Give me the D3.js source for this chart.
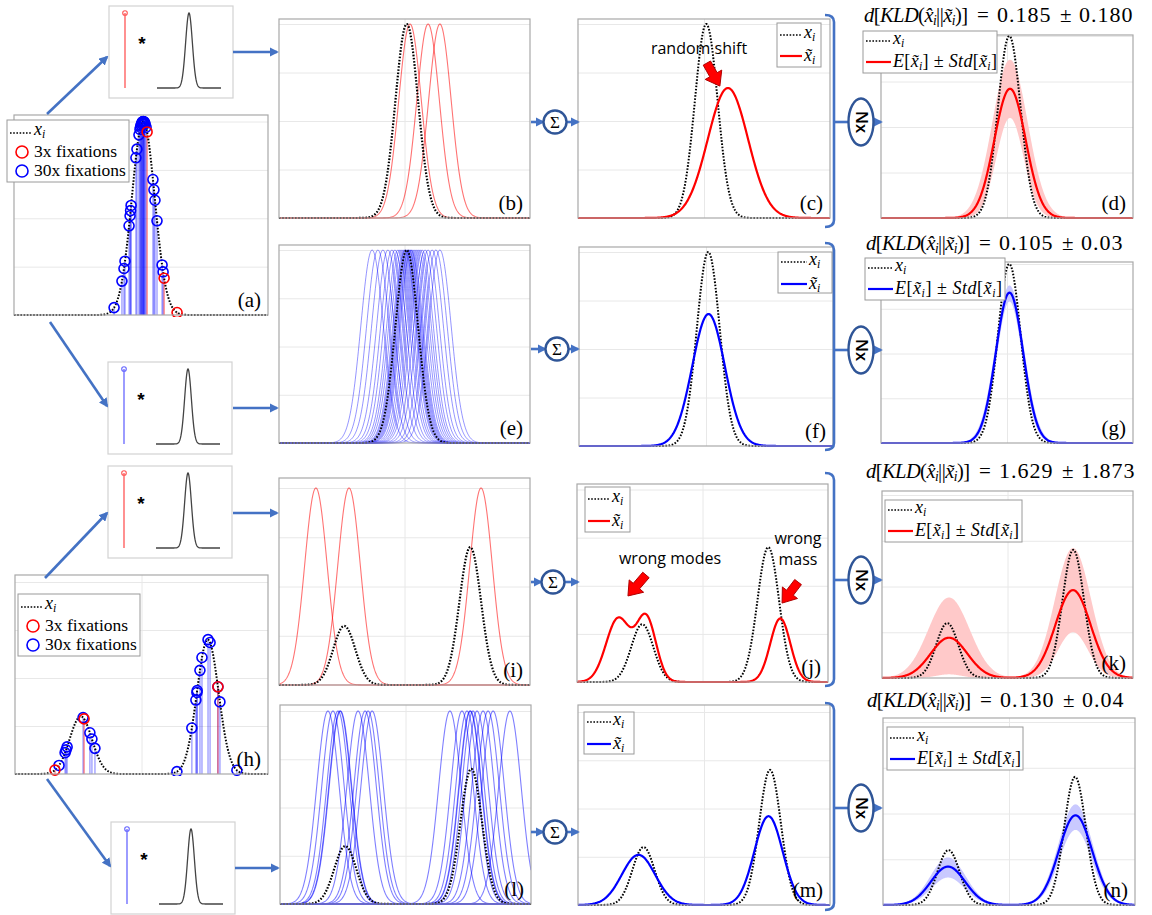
<!DOCTYPE html>
<html><head><meta charset="utf-8">
<script src="https://cdn.jsdelivr.net/npm/d3@7"></script>
<style>body{margin:0;background:#fff}svg{display:block}</style>
</head><body><script>
// ---------- data: x in axis units 0..100, heights relative to the unit grid line ----------
const xiOneMode  = [{mu:50.9, sd:4.5, h:1.0}];
const xiTwoModes = [{mu:26.0, sd:4.4, h:0.30}, {mu:76.2, sd:4.3, h:0.70}];

const fix3One  = [52.4, 59.1, 64.2];
const fix30One = [39.4, 42.5, 43.3, 43.7, 45.3, 45.7, 45.9, 46.1, 48.0, 48.4, 49.2, 49.6, 49.8, 50.0, 50.2,
                  50.4, 50.6, 50.8, 51.0, 51.2, 51.4, 51.6, 52.0, 54.7, 55.1, 55.5, 56.3, 58.3, 58.7, 50.9];
const fix3Two  = [15.8, 27.3, 80.2];
const fix30Two = [17.4, 19.8, 20.2, 20.6, 26.9, 29.6, 30.4, 31.6, 64.0, 69.9, 71.5, 71.9, 72.0,
                  73.1, 73.9, 76.3, 77.1, 80.2, 81.0, 87.7];

const kernelSd = 4.5;
const shiftB = [52.2, 59.4, 64.1];
const shiftE = [37.1, 39.4, 41.4, 43.4, 45.0, 46.2, 47.4, 48.2, 49.0, 49.8, 50.2, 50.6, 51.0, 51.4,
                51.8, 52.2, 52.6, 53.0, 53.8, 54.6, 55.4, 56.2, 57.0, 58.2, 59.4, 61.0, 62.5, 64.1];
const shiftI = [14.7, 27.9, 80.5];
const shiftL = [19.1, 21.1, 23.1, 23.9, 24.1, 31.1, 33.9, 35.1, 36.7, 67.7, 72.5, 74.5, 75.7, 75.9,
                76.9, 78.5, 80.9, 82.9, 84.9, 91.6];

// summed estimates
const estC = [{mu:59.5, sd:8.0, h:0.67}];
const estF = [{mu:51.0, sd:6.4, h:0.68}];
const estJ = [{mu:16.4, sd:4.8, h:0.33}, {mu:27.6, sd:3.9, h:0.33}, {mu:81.0, sd:4.0, h:0.33}];
const estM = [{mu:24.0, sd:6.6, h:0.26}, {mu:75.6, sd:5.6, h:0.46}];

// mean and mean +/- std over repetitions
const meanD = [{mu:51.2, sd:6.2, h:0.71}], upD = [{mu:51.2, sd:7.0, h:0.87}], loD = [{mu:51.2, sd:5.4, h:0.55}];
const meanG = [{mu:51.0, sd:5.4, h:0.84}], upG = [{mu:51.0, sd:5.7, h:0.88}], loG = [{mu:51.0, sd:5.1, h:0.79}];
const meanK = [{mu:26.7, sd:7.3, h:0.22}, {mu:76.1, sd:7.0, h:0.48}];
const upK   = [{mu:26.7, sd:8.2, h:0.44}, {mu:76.1, sd:7.2, h:0.71}];
const loK   = [{mu:26.7, sd:5.0, h:0.02}, {mu:76.1, sd:6.0, h:0.25}];
const meanN = [{mu:25.8, sd:6.8, h:0.21}, {mu:76.4, sd:6.6, h:0.49}];
const upN   = [{mu:25.8, sd:7.0, h:0.26}, {mu:76.4, sd:6.8, h:0.55}];
const loN   = [{mu:25.8, sd:6.6, h:0.15}, {mu:76.4, sd:6.4, h:0.41}];

const kldMean = ["0.185", "0.105", "1.629", "0.130"];
const kldStd  = ["0.180", "0.03", "1.873", "0.04"];

// ---------- layout ----------
const layout = {
  a:{L:14, R:268, T:115, B:315, g1:121.5},
  b:{L:279, R:530, T:19, B:218, g1:24},
  c:{L:578, R:830, T:19, B:218, g1:24},
  d:{L:881, R:1133, T:35, B:218, g1:36},
  e:{L:279, R:530, T:245, B:443, g1:250},
  f:{L:579, R:833, T:247, B:446, g1:252},
  g:{L:881, R:1133, T:262, B:443, g1:264},
  h:{L:15, R:268, T:575, B:774, g1:582},
  i:{L:279, R:530, T:478, B:685, g1:488},
  j:{L:577, R:828, T:484, B:682, g1:489.5},
  k:{L:882, R:1133, T:491, B:678, g1:495},
  l:{L:280, R:531, T:705, B:904, g1:711},
  m:{L:578, R:830, T:705, B:905, g1:712},
  n:{L:883, R:1135, T:718, B:905, g1:722}
};

const COL = {blue:'#0000FF', red:'#FF0000', conn:'#4472C4', ring:'#2F5597', frame:'#A8A8A8', grid:'#E8E8E8'};
const SERIF = "'Liberation Serif', 'DejaVu Serif', serif";
const SANS = "'Open Sans', 'Liberation Sans', sans-serif";

const mix = comps => x => d3.sum(comps, c => c.h * Math.exp(-0.5 * ((x - c.mu) / c.sd) ** 2));
const kernelSum = (centers) => centers.map(c => [{mu:c, sd:kernelSd, h:1}]);
const xs = d3.range(0, 100.001, 0.2);

const svg = d3.select('body').append('svg').attr('width', 1152).attr('height', 915)
  .style('font-family', SERIF);
const defs = svg.append('defs');
defs.append('marker').attr('id', 'ah').attr('viewBox', '0 0 10 10').attr('refX', 8).attr('refY', 5)
  .attr('markerWidth', 3.6).attr('markerHeight', 3.6).attr('orient', 'auto')
  .append('path').attr('d', 'M0,0L10,5L0,10z').attr('fill', COL.conn);

// ---------- helpers ----------
function rich(sel, parts, size) {
  let sub = false;
  parts.forEach(([t, st]) => {
    const ts = sel.append('tspan').text(t).attr('font-style', st === 'r' ? 'normal' : 'italic');
    if (st === 's') { ts.attr('font-size', size * 0.66).attr('dy', size * 0.16); sub = true; }
    else if (sub) { ts.attr('dy', -size * 0.16); sub = false; }
  });
}
const XI = [['x', 'i'], ['i', 's']];
const XT = [['x\u0303', 'i'], ['i', 's']];
const EST = [['E', 'i'], ['[', 'r'], ['x\u0303', 'i'], ['i', 's'], [']', 'r'], [' \u00b1 ', 'r'], ['Std', 'i'],
             ['[', 'r'], ['x\u0303', 'i'], ['i', 's'], [']', 'r']];
const KLD = [['d', 'i'], ['[', 'r'], ['KLD', 'i'], ['(', 'r'], ['x\u0302', 'i'], ['i', 's'], ['||', 'r'],
             ['x\u0303', 'i'], ['i', 's'], [')]', 'r']];

function axesPanel(key) {
  const p = layout[key];
  const g = svg.append('g');
  const x = d3.scaleLinear().domain([0, 100]).range([p.L, p.R]);
  const y = d3.scaleLinear().domain([0, 1]).range([p.B, p.g1]);
  g.append('rect').attr('x', p.L).attr('y', p.T).attr('width', p.R - p.L).attr('height', p.B - p.T).attr('fill', '#fff');
  const gy = g.append('g').attr('transform', `translate(${p.L},0)`)
    .call(d3.axisLeft(y).tickValues([0.25, 0.5, 0.75, 1]).tickSize(-(p.R - p.L)).tickFormat(''));
  const gx = g.append('g').attr('transform', `translate(0,${p.B})`)
    .call(d3.axisBottom(x).tickValues([50]).tickSize(-(p.B - p.T)).tickFormat(''));
  [gy, gx].forEach(a => { a.select('.domain').remove(); a.selectAll('line').attr('stroke', COL.grid).attr('stroke-width', 1); });
  const plot = g.append('g');
  const clipId = 'clip-' + key;
  defs.append('clipPath').attr('id', clipId).append('rect')
    .attr('x', p.L).attr('y', p.T - 2).attr('width', p.R - p.L).attr('height', p.B - p.T + 4);
  plot.attr('clip-path', `url(#${clipId})`);
  g.append('rect').attr('x', p.L).attr('y', p.T).attr('width', p.R - p.L).attr('height', p.B - p.T)
    .attr('fill', 'none').attr('stroke', COL.frame).attr('stroke-width', 1.2);
  g.append('text').attr('x', p.R - 7).attr('y', p.B - 8).attr('text-anchor', 'end')
    .attr('font-size', 21).attr('font-family', SERIF).text(`(${key})`);
  return {g, plot, x, y, p};
}
function curve(ax, comps, color, width, opts = {}) {
  const f = mix(comps);
  const path = ax.plot.append('path').datum(xs)
    .attr('d', d3.line().x(d => ax.x(d)).y(d => ax.y(f(d))))
    .attr('fill', 'none').attr('stroke', color).attr('stroke-width', width);
  if (opts.dotted) path.attr('stroke-dasharray', '1.6,1.6');
  if (opts.opacity) path.attr('stroke-opacity', opts.opacity);
  return path;
}
function band(ax, lo, up, color) {
  const fl = mix(lo), fu = mix(up);
  ax.plot.append('path').datum(xs)
    .attr('d', d3.area().x(d => ax.x(d)).y0(d => ax.y(fl(d))).y1(d => ax.y(fu(d))))
    .attr('fill', color).attr('stroke', 'none');
}
function stems(ax, comps, xsFix, color, stemOpacity) {
  const f = mix(comps);
  ax.plot.selectAll(null).data(xsFix).enter().append('line')
    .attr('x1', d => ax.x(d)).attr('x2', d => ax.x(d)).attr('y1', ax.y(0)).attr('y2', d => ax.y(f(d)))
    .attr('stroke', color).attr('stroke-opacity', stemOpacity).attr('stroke-width', 1.5);
}
function rings(ax, comps, xsFix, color) {
  const f = mix(comps);
  ax.plot.selectAll(null).data(xsFix).enter().append('circle')
    .attr('cx', d => ax.x(d)).attr('cy', d => ax.y(f(d))).attr('r', 5)
    .attr('fill', 'none').attr('stroke', color).attr('stroke-width', 1.6);
}
function legendFrame(x, y, w, h) {
  svg.append('rect').attr('x', x).attr('y', y).attr('width', w).attr('height', h)
    .attr('fill', '#fff').attr('stroke', '#9A9A9A').attr('stroke-width', 1);
}
function legendLine(x0, x1, yy, color, dotted, width) {
  const l = svg.append('line').attr('x1', x0).attr('x2', x1).attr('y1', yy).attr('y2', yy)
    .attr('stroke', color).attr('stroke-width', width);
  if (dotted) l.attr('stroke-dasharray', '1.6,1.6');
}
function legendText(x, yy, parts, size, fit) {
  const t = svg.append('text').attr('x', x).attr('y', yy).attr('font-size', size).attr('font-family', SERIF);
  if (fit) t.attr('textLength', fit).attr('lengthAdjust', 'spacing');
  rich(t, parts, size);
  return t;
}
// two-entry legend: x_i and the estimate
function legendTwo(x, y, w, h, r1, r2, color, parts2, lineW, size, fit) {
  legendFrame(x, y, w, h);
  legendLine(x + 3, x + 3 + lineW, r1, '#000', true, 1.6);
  legendText(x + 5 + lineW, r1 + 3, XI, size);
  legendLine(x + 3, x + 3 + lineW, r2, color, false, 2.2);
  legendText(x + 5 + lineW, r2 + 5, parts2, size, fit);
}
function fixLegend(x, y) {
  legendFrame(x, y, 122, 62);
  legendLine(x + 3, x + 25, y + 13, '#000', true, 1.6);
  legendText(x + 27, y + 15, XI, 18);
  svg.append('circle').attr('cx', x + 15).attr('cy', y + 32).attr('r', 6).attr('fill', 'none').attr('stroke', COL.red).attr('stroke-width', 1.6);
  svg.append('text').attr('x', x + 27).attr('y', y + 37).attr('font-size', 17.5).text('3x fixations');
  svg.append('circle').attr('cx', x + 15).attr('cy', y + 51).attr('r', 6).attr('fill', 'none').attr('stroke', COL.blue).attr('stroke-width', 1.6);
  svg.append('text').attr('x', x + 27).attr('y', y + 56).attr('font-size', 17.5).text('30x fixations');
}
function connector(p0, p1, head = true) {
  const l = svg.append('line').attr('x1', p0[0]).attr('y1', p0[1]).attr('x2', p1[0]).attr('y2', p1[1])
    .attr('stroke', COL.conn).attr('stroke-width', 2.6);
  if (head) l.attr('marker-end', 'url(#ah)');
}
function sigmaNode(cx, cy) {
  svg.append('circle').attr('cx', cx).attr('cy', cy).attr('r', 11.5).attr('fill', '#fff')
    .attr('stroke', COL.ring).attr('stroke-width', 2.4);
  svg.append('text').attr('x', cx).attr('y', cy + 6).attr('text-anchor', 'middle').attr('font-size', 17).text('\u03a3');
}
function nxNode(cx, cy) {
  svg.append('ellipse').attr('cx', cx).attr('cy', cy).attr('rx', 12.5).attr('ry', 23.5).attr('fill', '#fff')
    .attr('stroke', COL.ring).attr('stroke-width', 2.4);
  svg.append('text').attr('transform', `translate(${cx - 5.5},${cy}) rotate(90)`).attr('text-anchor', 'middle')
    .attr('font-family', SANS).attr('font-size', 16.5).attr('font-weight', 600).text('Nx');
}
function bracket(x, y0, y1) {
  svg.append('path').attr('d', `M${x - 9},${y0} Q${x},${y0} ${x},${y0 + 7} L${x},${y1 - 7} Q${x},${y1} ${x - 9},${y1}`)
    .attr('fill', 'none').attr('stroke', COL.conn).attr('stroke-width', 2.6);
}
const kernelShape = [{mu:0, sd:1, h:1}];
function kernelBox(bx, by, color) {
  svg.append('rect').attr('x', bx).attr('y', by).attr('width', 124).attr('height', 92)
    .attr('fill', '#fff').attr('stroke', '#D2D2D2').attr('stroke-width', 1.2);
  const kx = d3.scaleLinear().domain([-9.5, 9.5]).range([bx + 48, bx + 112]);
  const ky = d3.scaleLinear().domain([0, 1]).range([by + 82, by + 7]);
  svg.append('line').attr('x1', bx + 16).attr('x2', bx + 16).attr('y1', ky(0)).attr('y2', ky(1))
    .attr('stroke', color).attr('stroke-width', 1.3);
  svg.append('circle').attr('cx', bx + 16).attr('cy', ky(1)).attr('r', 2.3).attr('fill', 'none')
    .attr('stroke', color).attr('stroke-width', 1.1);
  svg.append('text').attr('x', bx + 33).attr('y', by + 44).attr('text-anchor', 'middle')
    .attr('font-family', "'Liberation Sans', sans-serif").attr('font-weight', 'bold').attr('font-size', 19).text('*');
  const f = mix(kernelShape);
  svg.append('path').datum(d3.range(-9.5, 9.51, 0.1))
    .attr('d', d3.line().x(d => kx(d)).y(d => ky(f(d))))
    .attr('fill', 'none').attr('stroke', '#444').attr('stroke-width', 1.3);
}
function blockArrow(ax, tipX, tipY, off) {
  const tip = [ax.x(tipX), ax.y(tipY)], tail = [tip[0] + off[0], tip[1] + off[1]];
  const dx = tip[0] - tail[0], dy = tip[1] - tail[1], L = Math.hypot(dx, dy);
  const ux = dx / L, uy = dy / L, px = -uy, py = ux;
  const hl = 13, sw = 4.2, hw = 9.5;
  const b = [tip[0] - ux * hl, tip[1] - uy * hl];
  const pts = [[tail[0] + px * sw, tail[1] + py * sw], [b[0] + px * sw, b[1] + py * sw], [b[0] + px * hw, b[1] + py * hw],
               tip, [b[0] - px * hw, b[1] - py * hw], [b[0] - px * sw, b[1] - py * sw], [tail[0] - px * sw, tail[1] - py * sw]];
  svg.append('path').attr('d', 'M' + pts.map(q => q.join(',')).join('L') + 'Z')
    .attr('fill', COL.red).attr('stroke', '#B00000').attr('stroke-width', 1);
}
function note(x, y, txt) {
  svg.append('text').attr('x', x).attr('y', y).attr('text-anchor', 'middle').attr('font-family', SANS)
    .attr('font-size', 16).text(txt);
}
function kldTitle(x0, y, i) {
  const t = svg.append('text').attr('x', x0).attr('y', y).attr('font-size', 20.5).attr('font-family', SERIF)
    .attr('textLength', 104).attr('lengthAdjust', 'spacing');
  rich(t, KLD, 20.5);
  svg.append('text').attr('x', x0 + 113).attr('y', y).attr('font-size', 21).text('=');
  svg.append('text').attr('x', x0 + 133).attr('y', y).attr('font-size', 22).attr('letter-spacing', 1).text(kldMean[i]);
  svg.append('text').attr('x', x0 + 196).attr('y', y).attr('font-size', 21).text('\u00b1');
  svg.append('text').attr('x', x0 + 215).attr('y', y).attr('font-size', 22).attr('letter-spacing', 1).text(kldStd[i]);
}

// ---------- row 1: one-mode x_i, 3 fixations ----------
const A = axesPanel('a');
stems(A, xiOneMode, fix30One, COL.blue, 0.35);
stems(A, xiOneMode, fix3One, COL.red, 0.45);
curve(A, xiOneMode, '#000', 2, {dotted:true});
rings(A, xiOneMode, fix30One, COL.blue);
rings(A, xiOneMode, fix3One, COL.red);
fixLegend(7, 120);

const B = axesPanel('b');
kernelSum(shiftB).forEach(k => curve(B, k, COL.red, 1.1, {opacity:0.55}));
curve(B, xiOneMode, '#000', 2.2, {dotted:true});

const Cp = axesPanel('c');
curve(Cp, xiOneMode, '#000', 2, {dotted:true});
curve(Cp, estC, COL.red, 2.2);
legendTwo(777, 23, 44, 44, 35, 56, COL.red, XT, 22, 18);
note(699, 54, 'random shift');
blockArrow(Cp, 56.3, 0.68, [-13, -23]);

const D = axesPanel('d');
band(D, loD, upD, '#FFC9C9');
curve(D, xiOneMode, '#000', 2, {dotted:true});
curve(D, meanD, COL.red, 2.2);
legendTwo(863, 31, 134, 42, 41, 62, COL.red, EST, 25, 18, 104);

// ---------- row 2: one-mode x_i, 30 fixations ----------
const E = axesPanel('e');
kernelSum(shiftE).forEach(k => curve(E, k, COL.blue, 1, {opacity:0.42}));
curve(E, xiOneMode, '#000', 2, {dotted:true});

const F = axesPanel('f');
curve(F, xiOneMode, '#000', 2, {dotted:true});
curve(F, estF, COL.blue, 2.2);
legendTwo(778, 252, 54, 41, 262, 284, COL.blue, XT, 26, 18);

const G = axesPanel('g');
band(G, loG, upG, '#C9C9FF');
curve(G, xiOneMode, '#000', 2, {dotted:true});
curve(G, meanG, COL.blue, 2.2);
legendTwo(865, 258, 140, 42, 268, 289, COL.blue, EST, 25, 18, 107);

// ---------- row 3: two-mode x_i, 3 fixations ----------
const Hp = axesPanel('h');
stems(Hp, xiTwoModes, fix30Two, COL.blue, 0.35);
stems(Hp, xiTwoModes, fix3Two, COL.red, 0.45);
curve(Hp, xiTwoModes, '#000', 2, {dotted:true});
rings(Hp, xiTwoModes, fix30Two, COL.blue);
rings(Hp, xiTwoModes, fix3Two, COL.red);
fixLegend(18, 594);

const I = axesPanel('i');
kernelSum(shiftI).forEach(k => curve(I, k, COL.red, 1.1, {opacity:0.55}));
curve(I, xiTwoModes, '#000', 2.2, {dotted:true});

const J = axesPanel('j');
curve(J, xiTwoModes, '#000', 2, {dotted:true});
curve(J, estJ, COL.red, 2.2);
legendTwo(585, 487, 45, 45, 499, 521, COL.red, XT, 22, 18);
note(670, 564, 'wrong modes');
note(798, 544, 'wrong');
note(798, 565, 'mass');
blockArrow(J, 20.3, 0.447, [18, -21]);
blockArrow(J, 81.7, 0.41, [16, -21]);

const K = axesPanel('k');
band(K, loK, upK, '#FFC9C9');
curve(K, xiTwoModes, '#000', 2, {dotted:true});
curve(K, meanK, COL.red, 2.2);
legendTwo(885, 500, 137, 42, 510, 531, COL.red, EST, 25, 18, 104);

// ---------- row 4: two-mode x_i, 30 fixations ----------
const Lp = axesPanel('l');
kernelSum(shiftL).forEach(k => curve(Lp, k, COL.blue, 1.1, {opacity:0.5}));
curve(Lp, xiTwoModes, '#000', 2.2, {dotted:true});

const M = axesPanel('m');
curve(M, xiTwoModes, '#000', 2, {dotted:true});
curve(M, estM, COL.blue, 2.2);
legendTwo(584, 712, 50, 42, 722, 744, COL.blue, XT, 24, 18);

const N = axesPanel('n');
band(N, loN, upN, '#C9C9FF');
curve(N, xiTwoModes, '#000', 2, {dotted:true});
curve(N, meanN, COL.blue, 2.2);
legendTwo(887, 727, 136, 43, 738, 759, COL.blue, EST, 25, 18, 104);

// ---------- KLD titles ----------
[[864, 22], [866, 250], [866, 478], [867, 707]].forEach(([x0, y], i) => kldTitle(x0, y, i));

// ---------- kernel boxes ----------
kernelBox(109, 6, '#FF5555');
kernelBox(108, 362, '#6666FF');
kernelBox(108, 466, '#FF5555');
kernelBox(111, 822, '#6666FF');

// ---------- flow connectors ----------
connector([47, 114], [107, 57]);
connector([50, 322], [107, 406]);
connector([233, 52], [277, 52]);
connector([233, 408], [277, 408]);
connector([45, 578], [107, 513]);
connector([47, 779], [110, 866]);
connector([233, 513], [277, 513]);
connector([235, 868], [278, 868]);

[[122, 555], [349, 557], [582, 553], [832, 555]].forEach(([yy, cx]) => {
  connector([531, yy], [cx - 12, yy]);
  connector([cx + 12, yy], [578, yy]);
  sigmaNode(cx, yy);
});
[[15, 227, 122], [243, 450, 350], [473, 686, 580], [703, 910, 808]].forEach(([y0, y1, ym]) => {
  bracket(834, y0, y1);
  connector([834, ym], [849, ym], false);
  connector([873, ym], [881, ym]);
  nxNode(861, ym);
});
</script></body></html>
